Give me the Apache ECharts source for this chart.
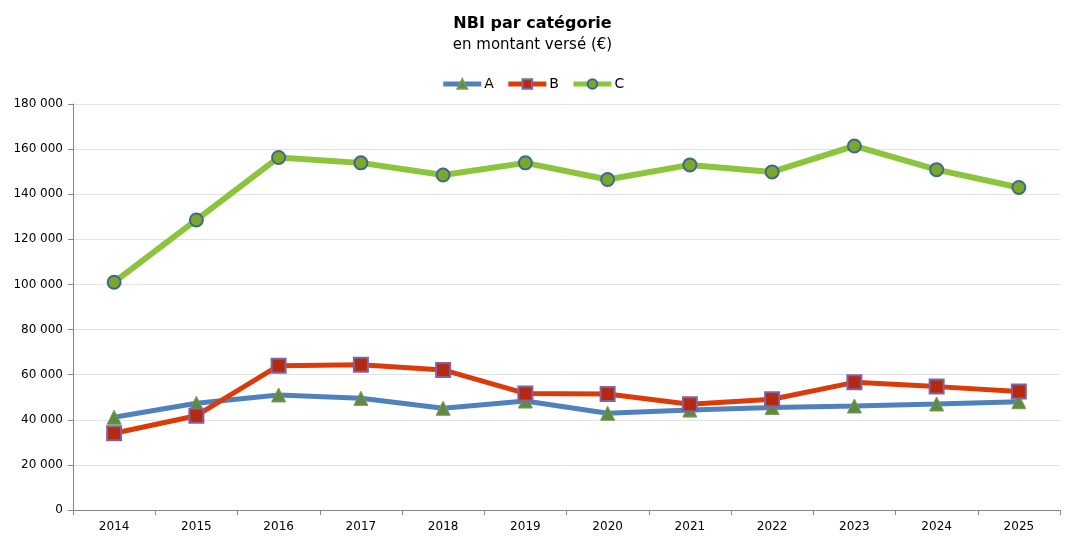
<!DOCTYPE html>
<html>
<head>
<meta charset="utf-8">
<script src="https://cdn.jsdelivr.net/npm/echarts@6/dist/echarts.min.js"></script>
<style>html,body{margin:0;padding:0;background:#fff}#c{width:1065px;height:536px}</style>
</head>
<body>
<div id="c"></div>
<script>
const years = ['2014','2015','2016','2017','2018','2019','2020','2021','2022','2023','2024','2025'];
const seriesA = [41100, 47300, 51000, 49500, 45100, 48300, 42900, 44300, 45400, 46100, 47000, 48000];
const seriesB = [34000, 41800, 64000, 64400, 62100, 51700, 51400, 46900, 49100, 56600, 54700, 52500];
const seriesC = [101000, 128600, 156300, 153900, 148500, 153900, 146500, 153000, 149900, 161400, 150900, 143000];

const font = 'DejaVu Sans';
const chart = echarts.init(document.getElementById('c'));
function fmt(v){ return String(v).replace(/\B(?=(\d{3})+(?!\d))/g, ' '); }
chart.setOption({
  animation: false,
  title: {
    text: 'NBI par catégorie',
    subtext: 'en montant versé (€)',
    left: 'center', top: 11,
    itemGap: 6,
    textStyle: { fontFamily: font, fontSize: 16, fontWeight: 'bold', color: '#000' },
    subtextStyle: { fontFamily: font, fontSize: 15, color: '#000' }
  },
  legend: {
    top: 72, left: 'center',
    itemWidth: 38, itemHeight: 12, itemGap: 12,
    lineStyle: { width: 5 },
    textStyle: { fontFamily: font, fontSize: 14, color: '#000', padding: [0, 0, 0, -2] },
    data: ['A','B','C']
  },
  grid: { left: 73, right: 5, top: 104, bottom: 26 },
  xAxis: {
    type: 'category', data: years, boundaryGap: true,
    axisLine: { lineStyle: { color: '#868686', width: 1 } },
    axisTick: { show: true, alignWithLabel: false, length: 5, lineStyle: { color: '#868686' } },
    axisLabel: { fontFamily: font, fontSize: 12, color: '#000', margin: 11 }
  },
  yAxis: {
    type: 'value', min: 0, max: 180000, interval: 20000,
    axisLine: { show: true, lineStyle: { color: '#868686', width: 1 } },
    axisTick: { show: true, length: 5, lineStyle: { color: '#868686' } },
    splitLine: { lineStyle: { color: '#e3e3e3', width: 1 } },
    axisLabel: { fontFamily: font, fontSize: 12, color: '#000', margin: 10, formatter: fmt }
  },
  series: [
    {
      name: 'A', type: 'line', data: seriesA,
      symbol: 'triangle', symbolSize: 14,
      lineStyle: { color: '#4f81bd', width: 5 },
      itemStyle: { color: '#5f8a45', borderColor: '#7a9a50', borderWidth: 1 },
      z: 3
    },
    {
      name: 'B', type: 'line', data: seriesB,
      symbol: 'rect', symbolSize: 14,
      lineStyle: { color: '#dd3a0a', width: 5 },
      itemStyle: { color: '#b42a10', borderColor: '#8064a2', borderWidth: 2 },
      z: 4
    },
    {
      name: 'C', type: 'line', data: seriesC,
      symbol: 'circle', symbolSize: 13,
      lineStyle: { color: '#8cc43c', width: 6 },
      itemStyle: { color: '#7aa82c', borderColor: '#3f6a8a', borderWidth: 2 },
      z: 5
    }
  ]
});
</script>
</body>
</html>
